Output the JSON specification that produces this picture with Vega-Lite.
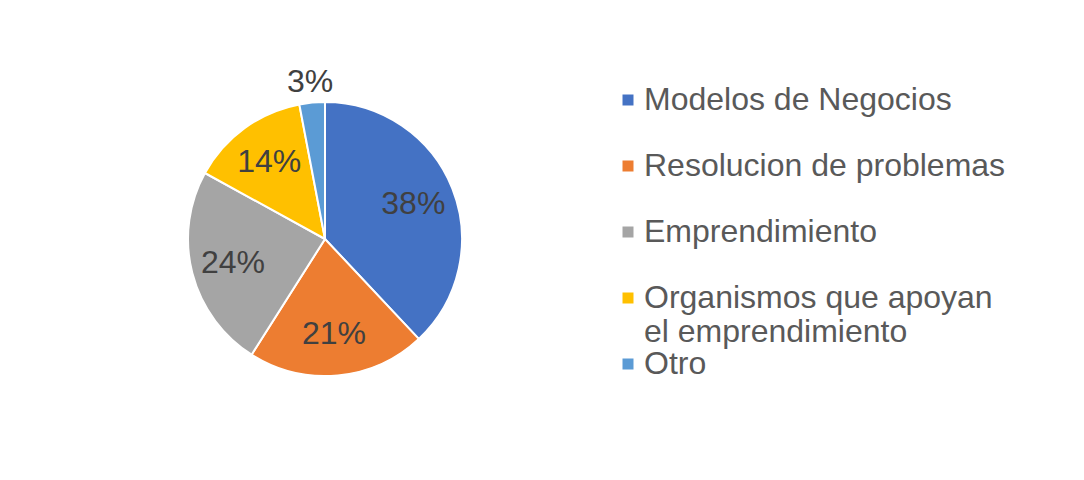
{
  "$schema": "https://vega.github.io/schema/vega-lite/v6.json",
  "width": 650,
  "height": 478,
  "padding": 0,
  "autosize": {"type": "pad"},
  "background": "white",
  "config": {"view": {"stroke": null}, "font": "Liberation Sans"},
  "data": {
    "values": [
      {"categoria": "Modelos de Negocios", "valor": 0.38, "orden": 1},
      {"categoria": "Resolucion de problemas", "valor": 0.21, "orden": 2},
      {"categoria": "Emprendimiento", "valor": 0.24, "orden": 3},
      {"categoria": "Organismos que apoyan el emprendimiento", "valor": 0.14, "orden": 4},
      {"categoria": "Otro", "valor": 0.03, "orden": 5}
    ]
  },
  "encoding": {
    "theta": {"field": "valor", "type": "quantitative", "stack": true},
    "order": {"field": "orden", "type": "quantitative", "sort": "ascending"}
  },
  "layer": [
    {
      "mark": {"type": "arc", "outerRadius": 137, "stroke": "white", "strokeWidth": 2},
      "encoding": {
        "color": {
          "field": "categoria",
          "type": "nominal",
          "scale": {
            "domain": ["Modelos de Negocios", "Resolucion de problemas", "Emprendimiento", "Organismos que apoyan el emprendimiento", "Otro"],
            "range": ["#4472C4", "#ED7D31", "#A5A5A5", "#FFC000", "#5B9BD5"]
          },
          "legend": {
            "orient": "none",
            "legendX": 612,
            "legendY": 84,
            "title": null,
            "padding": 0,
            "symbolType": "square",
            "symbolSize": 121,
            "symbolStrokeWidth": 0,
            "labelFontSize": 32,
            "labelFont": "Liberation Sans",
            "labelColor": "#595959",
            "labelOffset": 0,
            "labelLimit": 600,
            "rowPadding": 0,
            "gridAlign": "all",
            "labelExpr": "datum.label == 'Organismos que apoyan el emprendimiento' ? ['Organismos que apoyan', 'el emprendimiento'] : datum.label"
          }
        }
      }
    },
    {
      "mark": {"type": "text", "radius": 95, "fontSize": 32, "font": "Liberation Sans", "align": "center", "baseline": "middle"},
      "encoding": {
        "detail": {"field": "categoria", "type": "nominal"},
        "color": {"value": "#404040"},
        "text": {
          "condition": {"test": "datum.valor < 0.05", "value": ""},
          "field": "valor", "type": "quantitative", "format": ".0%"
        }
      }
    },
    {
      "mark": {"type": "text", "radius": 158, "fontSize": 32, "font": "Liberation Sans", "align": "center", "baseline": "middle"},
      "encoding": {
        "detail": {"field": "categoria", "type": "nominal"},
        "color": {"value": "#404040"},
        "text": {
          "condition": {"test": "datum.valor >= 0.05", "value": ""},
          "field": "valor", "type": "quantitative", "format": ".0%"
        }
      }
    }
  ]
}
